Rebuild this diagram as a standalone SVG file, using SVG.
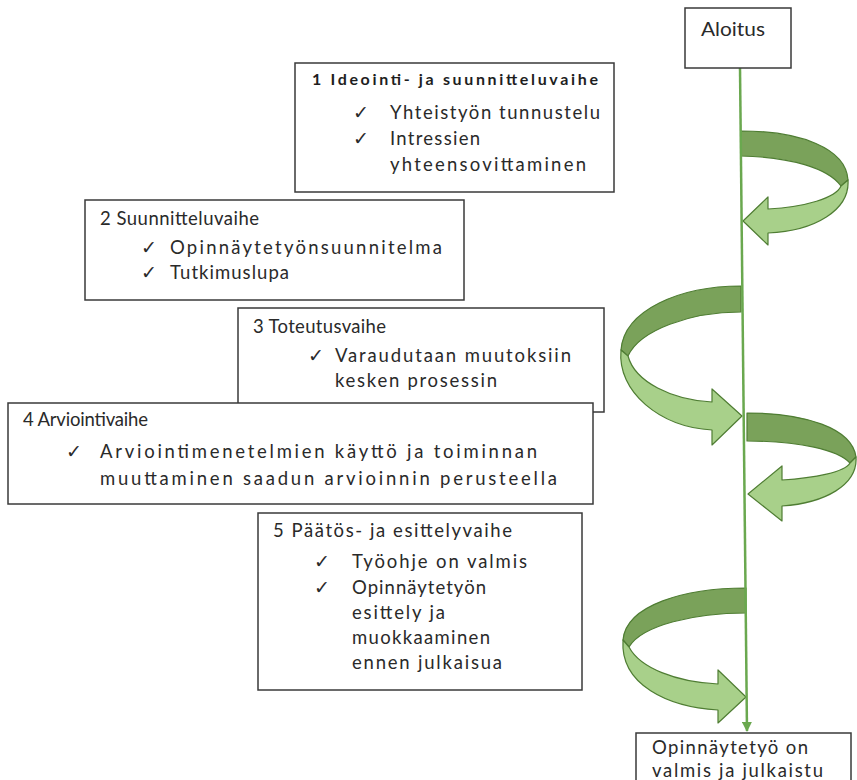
<svg xmlns="http://www.w3.org/2000/svg" width="857" height="780" viewBox="0 0 857 780">
<defs>
<style>
.box{fill:#ffffff;stroke:#3a3a3a;stroke-width:1.5}
.t{font-family:Lato,"Open Sans","Liberation Sans",sans-serif;font-size:18.5px;fill:#2a2a2a}
.tb{font-family:Lato,"Liberation Sans",sans-serif;font-size:16px;font-weight:bold;fill:#1e1e1e}
.ck{font-family:"DejaVu Sans",sans-serif;font-size:19px;fill:#2a2a2a}
.dk{fill:#7aa25a;stroke:#4f7d33;stroke-width:1.2;stroke-linejoin:round}
.lt{fill:#a8d08a;stroke:#4f7d33;stroke-width:1.2;stroke-linejoin:round}
.ln{stroke:#6aa84f;stroke-width:2.5;fill:none}
</style>
<marker id="ah" viewBox="0 0 10 10" refX="9" refY="5" markerWidth="4" markerHeight="4" orient="auto">
<path d="M0,0 L10,5 L0,10 Z" fill="#6aa84f"/>
</marker>
</defs>
<rect width="857" height="780" fill="#ffffff"/>

<g id="connectors">
<path class="dk" d="M741,131 C800,131 846,148 848,180 L841,186 C828,168 790,157 741,156 Z"/>
<path class="lt" d="M848,180 C850,210 815,231 768,233 L768,245 L743,221 L768,197 L768,209 C805,207 836,198 841,186 Z"/>
<path class="dk" d="M741,286 C680,286 624,310 621,350 L628,356 C640,330 690,312 741,312 Z"/>
<path class="lt" d="M621,350 C617,392 660,427 712,430 L712,445 L742,416 L712,389 L712,402 C672,400 635,382 628,356 Z"/>
<path class="dk" d="M747,413 C805,413 852,428 856,457 L850,463 C838,450 800,441 747,441 Z"/>
<path class="lt" d="M856,457 C858,485 825,503 782,506 L782,521 L748,494 L782,466 L782,480 C815,478 845,472 850,463 Z"/>
<path class="dk" d="M746,588 C685,588 626,605 623,640 L629,647 C642,625 695,613 746,613 Z"/>
<path class="lt" d="M623,640 C620,685 668,707 718,710 L718,723 L746,697 L718,670 L718,684 C676,682 640,668 629,647 Z"/>
<line class="ln" x1="740" y1="68" x2="747" y2="731" marker-end="url(#ah)"/>
</g>

<g id="start">
<rect class="box" x="685" y="8" width="106" height="60"/>
<text class="t" x="701" y="36" textLength="64" lengthAdjust="spacingAndGlyphs">Aloitus</text>
</g>

<g id="phase1">
<rect class="box" x="295" y="63" width="319" height="129"/>
<text class="tb" x="312" y="85" textLength="286" lengthAdjust="spacing">1 Ideointi- ja suunnitteluvaihe</text>
<text class="ck" x="353" y="119">✓</text>
<text class="t" x="390" y="119" textLength="210" lengthAdjust="spacing">Yhteistyön tunnustelu</text>
<text class="ck" x="353" y="145">✓</text>
<text class="t" x="390" y="145" textLength="90" lengthAdjust="spacing">Intressien</text>
<text class="t" x="390" y="171" textLength="196" lengthAdjust="spacing">yhteensovittaminen</text>
</g>

<g id="phase2">
<rect class="box" x="85" y="200" width="379" height="100"/>
<text class="t" x="100" y="225" textLength="159" lengthAdjust="spacing">2 Suunnitteluvaihe</text>
<text class="ck" x="141" y="254">✓</text>
<text class="t" x="170" y="254" textLength="272" lengthAdjust="spacing">Opinnäytetyönsuunnitelma</text>
<text class="ck" x="141" y="279">✓</text>
<text class="t" x="170" y="279" textLength="119" lengthAdjust="spacing">Tutkimuslupa</text>
</g>

<g id="phase3">
<rect class="box" x="238" y="308" width="366" height="104"/>
<text class="t" x="253" y="333" textLength="133" lengthAdjust="spacing">3 Toteutusvaihe</text>
<text class="ck" x="308" y="362">✓</text>
<text class="t" x="335" y="362" textLength="236" lengthAdjust="spacing">Varaudutaan muutoksiin</text>
<text class="t" x="335" y="387" textLength="162" lengthAdjust="spacing">kesken prosessin</text>
</g>

<g id="phase4">
<rect class="box" x="8" y="403" width="585" height="101"/>
<text class="t" x="23" y="426" textLength="125" lengthAdjust="spacing">4 Arviointivaihe</text>
<text class="ck" x="66" y="458">✓</text>
<text class="t" x="100" y="458" textLength="437" lengthAdjust="spacing">Arviointimenetelmien käyttö ja toiminnan</text>
<text class="t" x="100" y="485" textLength="457" lengthAdjust="spacing">muuttaminen saadun arvioinnin perusteella</text>
</g>

<g id="phase5">
<rect class="box" x="258" y="513" width="324" height="177"/>
<text class="t" x="273" y="537" textLength="239" lengthAdjust="spacing">5 Päätös- ja esittelyvaihe</text>
<text class="ck" x="314" y="568">✓</text>
<text class="t" x="352" y="568" textLength="175" lengthAdjust="spacing">Työohje on valmis</text>
<text class="ck" x="314" y="594">✓</text>
<text class="t" x="352" y="594" textLength="134" lengthAdjust="spacing">Opinnäytetyön</text>
<text class="t" x="352" y="619" textLength="93" lengthAdjust="spacing">esittely ja</text>
<text class="t" x="352" y="644" textLength="138" lengthAdjust="spacing">muokkaaminen</text>
<text class="t" x="352" y="669" textLength="150" lengthAdjust="spacing">ennen julkaisua</text>
</g>

<g id="end">
<rect class="box" x="636" y="733" width="215" height="52"/>
<text class="t" x="652" y="754" textLength="156" lengthAdjust="spacing">Opinnäytetyö on</text>
<text class="t" x="652" y="777" textLength="171" lengthAdjust="spacing">valmis ja julkaistu</text>
</g>
</svg>
